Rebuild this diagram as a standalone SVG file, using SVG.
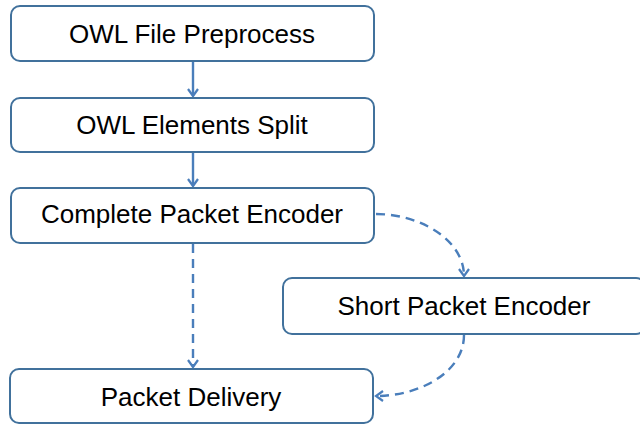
<svg xmlns="http://www.w3.org/2000/svg" width="640" height="424" viewBox="0 0 640 424">
  <defs>
    <style>
      .box { fill: #ffffff; stroke: #41719c; stroke-width: 2; }
      .label { font-family: "Liberation Sans", Arial, sans-serif; font-size: 26px; fill: #000000; text-anchor: middle; }
      .edge { fill: none; stroke: #4a7ebb; stroke-width: 2.4; }
      .dashed { stroke-dasharray: 9 6; }
    </style>
    <marker id="arrow" markerWidth="12" markerHeight="12" refX="9" refY="6" orient="auto" markerUnits="userSpaceOnUse">
      <path d="M2,1 L9,6 L2,11" fill="none" stroke="#4a7ebb" stroke-width="2.2"/>
    </marker>
  </defs>
  <rect width="640" height="424" fill="#ffffff"/>

  <g id="connectors">
    <line class="edge" x1="193" y1="62" x2="193" y2="96" marker-end="url(#arrow)"/>
    <line class="edge" x1="193" y1="153" x2="193" y2="186" marker-end="url(#arrow)"/>
    <line class="edge dashed" x1="193" y1="244" x2="193" y2="367" marker-end="url(#arrow)"/>
    <path class="edge dashed" d="M376,214 C420,214 464,240 464,276" marker-end="url(#arrow)"/>
    <path class="edge dashed" d="M464,335 C464,372 420,396 376,396" marker-end="url(#arrow)"/>
  </g>

  <g id="owl-file-preprocess">
    <rect class="box" x="11" y="6" width="363" height="55" rx="9"/>
    <text class="label" x="192" y="43">OWL File Preprocess</text>
  </g>
  <g id="owl-elements-split">
    <rect class="box" x="11" y="98" width="363" height="54" rx="9"/>
    <text class="label" x="192" y="134">OWL Elements Split</text>
  </g>
  <g id="complete-packet-encoder">
    <rect class="box" x="11" y="188" width="363" height="55" rx="9"/>
    <text class="label" x="192" y="223">Complete Packet Encoder</text>
  </g>
  <g id="short-packet-encoder">
    <rect class="box" x="283" y="278" width="362" height="56" rx="9"/>
    <text class="label" x="464" y="315">Short Packet Encoder</text>
  </g>
  <g id="packet-delivery">
    <rect class="box" x="10" y="369" width="363" height="54" rx="9"/>
    <text class="label" x="191" y="406">Packet Delivery</text>
  </g>
</svg>
